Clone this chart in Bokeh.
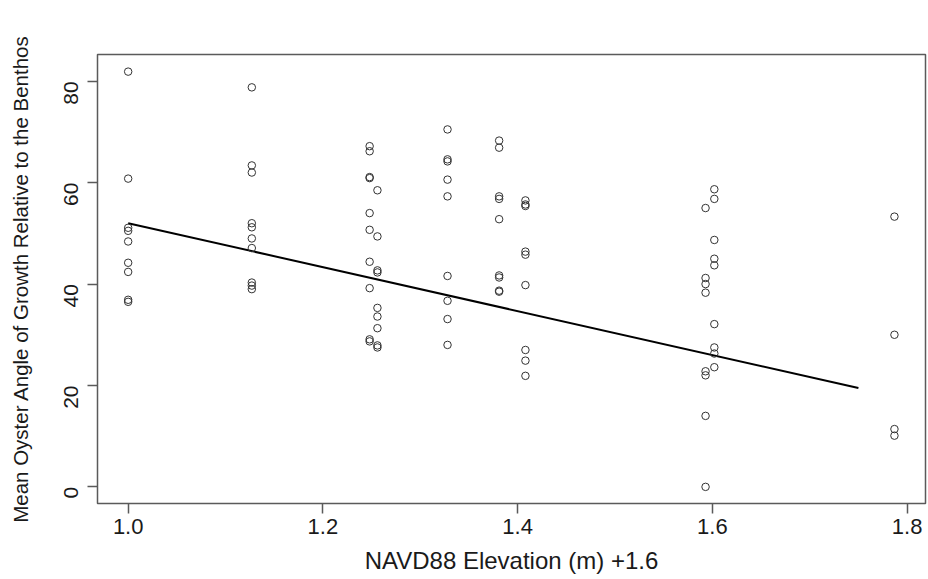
import math
from bokeh.plotting import figure
from bokeh.models import Range1d, FixedTicker, PrintfTickFormatter, ColumnDataSource
from bokeh.embed import file_html
from bokeh.resources import INLINE

# Elevation groups (NAVD88 elevation + 1.6, m) and mean oyster angles
elev = [1.000, 1.127, 1.248, 1.256, 1.328, 1.381, 1.408, 1.593, 1.602, 1.787]
angles_100 = [81.9, 60.8, 51.1, 50.5, 48.4, 44.2, 42.4, 36.9, 36.5]
angles_113 = [78.8, 63.4, 62.0, 52.0, 51.2, 49.0, 47.1, 40.3, 39.7, 39.0]
angles_125 = [67.2, 66.2, 61.1, 60.9, 54.0, 50.7, 44.4, 39.2, 29.1, 28.7]
angles_126 = [58.5, 49.4, 42.7, 42.3, 35.3, 33.6, 31.3, 27.9, 27.5]
angles_133 = [70.5, 64.6, 64.2, 60.6, 57.3, 41.6, 36.7, 33.1, 28.0]
angles_138 = [68.3, 66.9, 57.3, 56.8, 52.8, 41.7, 41.3, 38.7, 38.5]
angles_141 = [56.5, 55.7, 55.4, 46.4, 45.8, 39.8, 27.0, 24.9, 21.9]
angles_159 = [55.0, 41.2, 40.0, 38.3, 22.8, 22.0, 14.0, 0.0]
angles_160 = [58.7, 56.8, 48.7, 45.0, 43.7, 32.1, 27.5, 26.3, 23.6]
angles_179 = [53.3, 30.0, 11.4, 10.1]
groups = [angles_100, angles_113, angles_125, angles_126, angles_133,
          angles_138, angles_141, angles_159, angles_160, angles_179]

# fitted line
fit_x = [1.0, 1.75]
fit_y = [52.0, 19.5]

x_ticks = [1.0, 1.2, 1.4, 1.6, 1.8]
y_ticks = [0, 20, 40, 60, 80]

xs, ys = [], []
for e, g in zip(elev, groups):
    for v in g:
        xs.append(e)
        ys.append(v)
src = ColumnDataSource(dict(x=xs, y=ys))

p = figure(width=928, height=579, output_backend="svg", toolbar_location=None,
           x_range=Range1d(0.9685, 1.8189), y_range=Range1d(-3.28, 85.28),
           min_border_left=97, min_border_right=3, min_border_top=54, min_border_bottom=76)
p.background_fill_color = "white"
p.border_fill_color = "white"
p.outline_line_color = "#5a5a5a"
p.outline_line_width = 1.5
p.xgrid.grid_line_color = None
p.ygrid.grid_line_color = None

FONT = "Liberation Sans"
TXT = "#1a1a1a"

xa = p.xaxis[0]
xa.ticker = FixedTicker(ticks=x_ticks)
xa.formatter = PrintfTickFormatter(format="%.1f")
ya = p.yaxis[0]
ya.ticker = FixedTicker(ticks=y_ticks)

for ax in (xa, ya):
    ax.axis_line_color = None
    ax.major_tick_line_color = "#5a5a5a"
    ax.major_tick_line_width = 1.5
    ax.major_tick_out = 10
    ax.major_tick_in = 0
    ax.minor_tick_line_color = None
    ax.major_label_text_font = FONT
    ax.major_label_text_color = TXT
    ax.axis_label_text_font = FONT
    ax.axis_label_text_font_style = "normal"
    ax.axis_label_text_color = TXT

xa.major_label_text_font_size = "22px"
xa.major_label_standoff = 5
xa.axis_label = "NAVD88 Elevation (m) +1.6"
xa.axis_label_text_font_size = "24px"
xa.axis_label_standoff = 10

ya.major_label_text_font_size = "21px"
ya.major_label_orientation = math.pi / 2
ya.major_label_standoff = 16
ya.axis_label = "Mean Oyster Angle of Growth Relative to the Benthos"
ya.axis_label_text_font_size = "20.5px"
ya.axis_label_standoff = 23

p.line(fit_x, fit_y, line_color="black", line_width=2)
p.scatter("x", "y", source=src, marker="circle", size=7.5, fill_color=None,
          line_color="#333333", line_width=1)

open("out.html", "w").write(file_html(p, INLINE))
